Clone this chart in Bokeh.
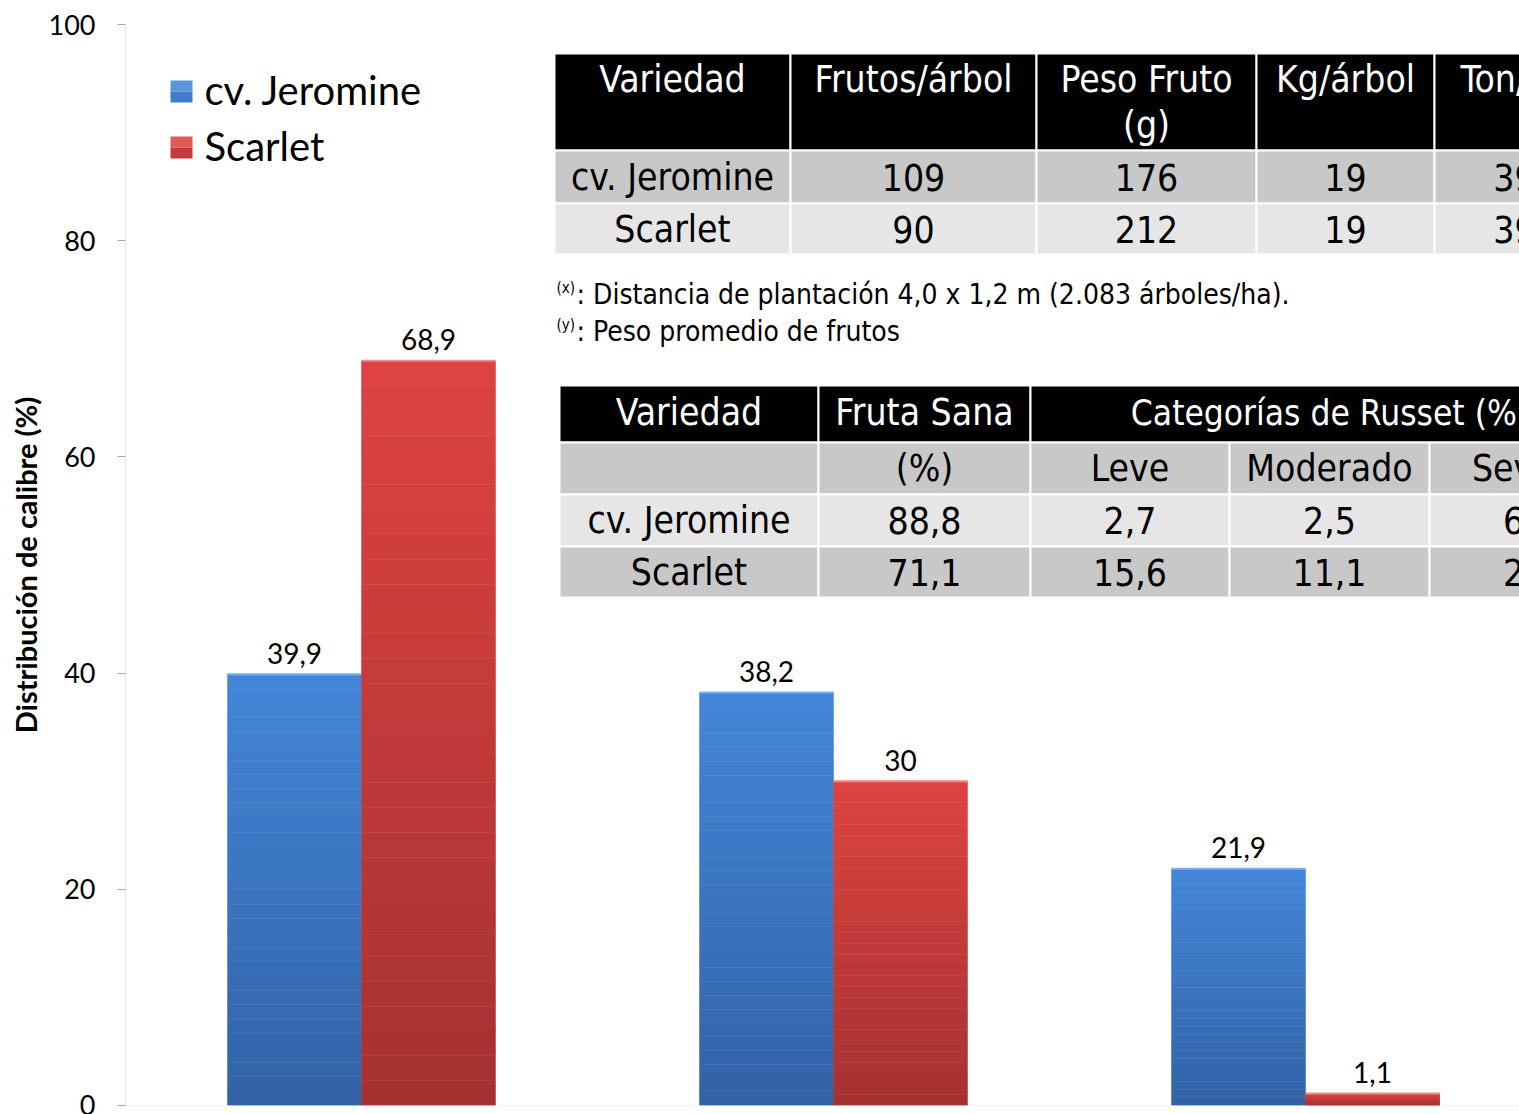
import numpy as np
from bokeh.plotting import figure
from bokeh.models import Range1d, Span
from bokeh.core.properties import value
from bokeh.embed import file_html
from bokeh.resources import INLINE

# ---------------- data ----------------
categories = ["A", "B", "C"]          # category labels are cropped out of the reference
series_names = ["cv. Jeromine", "Scarlet"]
jeromine = [39.9, 38.2, 21.9]
scarlet = [68.9, 30.0, 1.1]
jeromine_labels = ["39,9", "38,2", "21,9"]
scarlet_labels = ["68,9", "30", "1,1"]
y_ticks = [0, 20, 40, 60, 80, 100]
y_title = "Distribución de calibre (%)"

t1_header = ["Variedad", "Frutos/árbol", "Peso Fruto", "Kg/árbol", "Ton/ha"]
t1_header2 = ["", "", "(g)", "", ""]
t1_rows = [["cv. Jeromine", "109", "176", "19", "39"],
           ["Scarlet", "90", "212", "19", "39"]]

foot_marks = ["(x)", "(y)"]
foot_texts = [": Distancia de plantación 4,0 x 1,2 m (2.083 árboles/ha).",
              ": Peso promedio de frutos"]

t2_header = ["Variedad", "Fruta Sana", "Categorías de Russet (%)"]
t2_sub = ["", "(%)", "Leve", "Moderado", "Severo"]
t2_rows = [["cv. Jeromine", "88,8", "2,7", "2,5", "6,0"],
           ["Scarlet", "71,1", "15,6", "11,1", "2,2"]]

# ---------------- layout (pixels of the picture) ----------------
W, H = 1519, 1114
FL, FT, FB = 125, 24, 9
CAT_PX = 472.0
FRAME_W = W - FL
FRAME_H = H - FT - FB
PX_Y = FRAME_H / 100.0
X0 = FL               # picture x of data x=0
Y0 = FT + FRAME_H     # picture y of data y=0

def dx(px):
    return (px - X0) / CAT_PX

def dy(py):
    return (Y0 - py) / PX_Y

BAR_W = 134 / CAT_PX
SANS = value("Lato")
NARROW = value("Liberation Sans Narrow, DejaVu Sans Condensed, sans-serif")

p = figure(width=W, height=H, x_range=Range1d(0, FRAME_W / CAT_PX), y_range=Range1d(0, 100),
           output_backend="svg", toolbar_location=None,
           min_border_left=FL, min_border_right=0, min_border_top=FT, min_border_bottom=FB)
p.outline_line_color = None
p.xgrid.visible = False
p.ygrid.visible = False
p.xaxis.visible = False
p.background_fill_color = "white"

ax = p.yaxis[0]
ax.ticker = y_ticks
ax.axis_line_color = "#d9d9d9"
ax.axis_line_dash = "2 1"
ax.major_tick_out = 8
ax.major_tick_in = 0
ax.major_tick_line_color = "#a6a6a6"
ax.minor_tick_line_color = None
ax.major_label_text_font = "Lato"
ax.major_label_text_font_size = "27px"
ax.major_label_text_color = "black"
ax.major_label_standoff = 22
ax.axis_label = y_title
ax.axis_label_text_font = "Lato"
ax.axis_label_text_font_style = "bold"
ax.axis_label_text_font_size = "29px"
ax.axis_label_text_color = "black"
ax.axis_label_standoff = 3

p.add_layout(Span(location=0, dimension="width", line_color="#cfcfcf", line_dash="2 2", line_width=1))

# ---------------- bars with vertical gradient ----------------
blue_bot, blue_top = np.array([50, 98, 166]), np.array([67, 134, 216])
red_bot, red_top = np.array([165, 49, 49]), np.array([221, 67, 65])
N = 30

def hexc(c):
    c = np.clip(np.round(c), 0, 255).astype(int)
    return "#%02x%02x%02x" % tuple(c)

for vals, offs, cb, ct, hl in [(jeromine, -0.5, blue_bot, blue_top, "#7fb2ee"),
                               (scarlet, 0.5, red_bot, red_top, "#ef8a86")]:
    xs, bots, tops, cols = [], [], [], []
    for i, v in enumerate(vals):
        xc = i + 0.5 + offs * BAR_W
        for k in range(N):
            xs.append(xc)
            bots.append(v * k / N)
            tops.append(v * (k + 1) / N)
            cols.append(hexc(cb + (ct - cb) * (k + 0.5) / N))
    p.vbar(x=xs, bottom=bots, top=tops, width=BAR_W, fill_color=cols, line_color=cols, line_width=0.5)
    lefts = [i + 0.5 + offs * BAR_W - BAR_W / 2 for i in range(len(vals))]
    rights = [i + 0.5 + offs * BAR_W + BAR_W / 2 for i in range(len(vals))]
    p.segment(x0=lefts, x1=rights, y0=vals, y1=vals, line_color=hl, line_width=2)

LABEL_GAP = 21 / PX_Y
xj = [i + 0.5 - 0.5 * BAR_W for i in range(len(categories))]
xs_ = [i + 0.5 + 0.5 * BAR_W for i in range(len(categories))]
p.text(x=xj, y=[v + LABEL_GAP for v in jeromine], text=jeromine_labels, text_align="center",
       text_baseline="middle", text_font=SANS, text_font_size="28px", text_color="black")
p.text(x=xs_, y=[v + LABEL_GAP for v in scarlet], text=scarlet_labels, text_align="center",
       text_baseline="middle", text_font=SANS, text_font_size="28px", text_color="black")

# ---------------- legend ----------------
leg_cols = [("#3f7ccb", "#5b95dc"), ("#c53a3a", "#e05a57")]
for j, name in enumerate(series_names):
    cy = 91 + 56 * j
    p.quad(left=[dx(170)], right=[dx(192)], top=[dy(cy - 11)], bottom=[dy(cy)],
           fill_color=leg_cols[j][1], line_color=None)
    p.quad(left=[dx(170)], right=[dx(192)], top=[dy(cy)], bottom=[dy(cy + 11)],
           fill_color=leg_cols[j][0], line_color=None)
    p.text(x=[dx(204)], y=[dy(cy - 2)], text=[name], text_align="left", text_baseline="middle",
           text_font=SANS, text_font_size="40px", text_color="black")

# ---------------- table helper ----------------
def cells(lefts, rights, tops, bots, colors):
    p.quad(left=[dx(v) for v in lefts], right=[dx(v) for v in rights],
           top=[dy(v) for v in tops], bottom=[dy(v) for v in bots],
           fill_color=colors, line_color="white", line_width=2)

def texts(xs, ys, strs, color, size="37px"):
    p.text(x=[dx(v) for v in xs], y=[dy(v) for v in ys], text=strs, text_align="center",
           text_baseline="middle", text_font=NARROW, text_font_size=size, text_color=color)

DARK, LIGHT = "#c8c8c8", "#e6e6e6"

# table 1
c1 = [554, 790, 1036, 1256, 1434, 1594]
r1 = [53, 150, 203, 254]
n1 = len(t1_header)
cells(c1[:-1], c1[1:], [r1[0]] * n1, [r1[1]] * n1, ["black"] * n1)
for ri, row in enumerate(t1_rows):
    cells(c1[:-1], c1[1:], [r1[ri + 1]] * n1, [r1[ri + 2]] * n1, [[DARK, LIGHT][ri]] * n1)
cx1 = [(a + b) / 2 for a, b in zip(c1[:-1], c1[1:])]
texts(cx1, [79] * n1, t1_header, "white")
texts(cx1, [125] * n1, t1_header2, "white")
for ri, row in enumerate(t1_rows):
    texts(cx1, [(r1[ri + 1] + r1[ri + 2]) / 2] * n1, row, "black")

# footnotes
for k in range(2):
    yy = 294 + 37 * k
    p.text(x=[dx(556)], y=[dy(yy - 7)], text=[foot_marks[k]], text_align="left", text_baseline="middle",
           text_font=NARROW, text_font_size="15px", text_color="black")
    p.text(x=[dx(576)], y=[dy(yy)], text=[foot_texts[k]], text_align="left", text_baseline="middle",
           text_font=NARROW, text_font_size="28px", text_color="black")

# table 2
c2 = [559, 818, 1030, 1229, 1429, 1629]
r2 = [385, 442, 494, 546, 597]
cells([c2[0], c2[1], c2[2]], [c2[1], c2[2], c2[5]], [r2[0]] * 3, [r2[1]] * 3, ["black"] * 3)
texts([(c2[0] + c2[1]) / 2, (c2[1] + c2[2]) / 2], [412] * 2, t2_header[:2], "white")
texts([(c2[2] + c2[5]) / 2], [412], t2_header[2:], "white", size="35px")
cx2 = [(a + b) / 2 for a, b in zip(c2[:-1], c2[1:])]
n2 = len(t2_sub)
shades = [DARK, LIGHT, DARK]
for ri, row in enumerate([t2_sub] + t2_rows):
    cells(c2[:-1], c2[1:], [r2[ri + 1]] * n2, [r2[ri + 2]] * n2, [shades[ri]] * n2)
    texts(cx2, [(r2[ri + 1] + r2[ri + 2]) / 2] * n2, row, "black")

open("out.html", "w").write(file_html(p, INLINE))
